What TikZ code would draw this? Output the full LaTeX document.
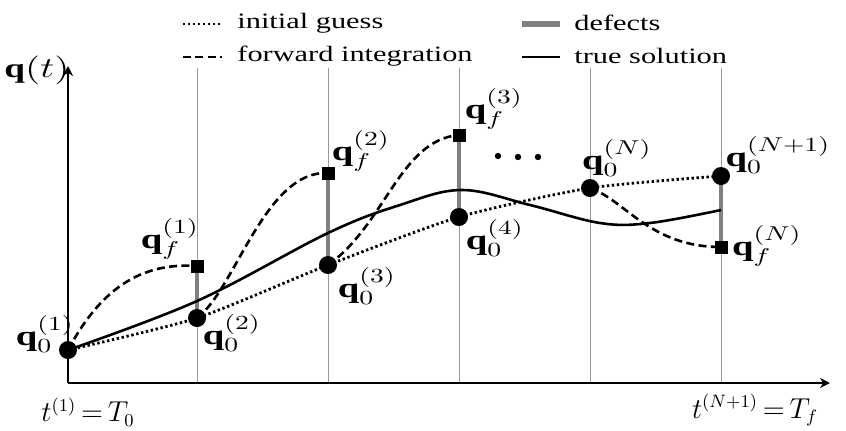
\documentclass[tikz,border=0pt]{standalone}
\usepackage{fontspec}
\usepackage{graphicx}
\setmainfont{Liberation Serif}
\usetikzlibrary{arrows.meta,positioning}
\newcommand{\hs}[1]{\scalebox{1.38}[1]{#1}}

\begin{document}
\begin{tikzpicture}[x=.5pt,y=-.5pt,
 mk/.style={circle,fill=black,inner sep=0pt,minimum size=9pt},
 sq/.style={rectangle,fill=black,inner sep=0pt,minimum size=6.5pt},
 lab/.style={inner sep=0pt,font=\fontsize{14}{16}\selectfont},
 axl/.style={inner sep=0pt,font=\fontsize{13.5}{16}\selectfont},
 leg/.style={inner sep=0pt,anchor=west,font=\fontsize{11}{13}\selectfont},
 ax/.style={line width=1.2pt,-{Stealth[length=5pt,width=5pt]}},
 gl/.style={line width=.5pt,black!40},
 df/.style={line width=2.2pt,black!50},
 fw/.style={line width=1.3pt,dash pattern=on 4pt off 2.2pt},
 ig/.style={line width=1.4pt,dash pattern=on 1.2pt off 1.3pt},
 ts/.style={line width=1.3pt}]
\useasboundingbox (0,0) rectangle (846,430);
% points of the shooting grid
\coordinate (o) at (68,383);
\coordinate (tx) at (830,383);
\coordinate (ty) at (68,66);
\coordinate (q01) at (68,350);
\coordinate (q02) at (197,318);
\coordinate (q03) at (328,265);
\coordinate (q04) at (459,217);
\coordinate (q0N) at (590,188);
\coordinate (q0M) at (721,176);
\coordinate (qf1) at (197,266);
\coordinate (qf2) at (328,173);
\coordinate (qf3) at (459,135);
\coordinate (qfN) at (721,247);
% legend
\draw[ig] (183,24) -- (222,24);
\node[leg] (lig) at (237,23) {\hs{initial guess}};
\draw[fw] (183,57) -- (222,57);
\node[leg] (lfw) at (237,56) {\hs{forward integration}};
\draw[df,line width=2.6pt] (522,24) -- (560,24);
\node[leg] (ldf) at (574,23) {\hs{defects}};
\draw[ts] (522,57) -- (560,57);
\node[leg] (lts) at (574,56) {\hs{true solution}};
% grid and axes
\foreach \x in {197,328,459,590,721}
  \draw[gl] (\x,68) -- (\x,383);
\draw[ax] (o) -- (tx);
\draw[ax] (o) -- (ty);
% defects
\draw[df] (qf1) -- (q02);
\draw[df] (qf2) -- (q03);
\draw[df] (qf3) -- (q04);
\draw[df] (q0M) -- (qfN);
% true solution
\draw[ts] plot[smooth,tension=.6] coordinates {(q01) (197,301) (328,233) (400,205) (462,190) (530,205) (600,223) (650,223) (721,210)};
% initial guess
\draw[ig] plot[smooth,tension=.4] coordinates {(q01) (q02) (q03) (q04) (q0N) (q0M)};
% forward integration
\draw[fw] (q01) .. controls (100,290) and (140,262) .. (qf1);
\draw[fw] (q02) .. controls (235,290) and (265,170) .. (qf2);
\draw[fw] (q03) .. controls (385,225) and (400,140) .. (qf3);
\draw[fw] (q0N) .. controls (625,200) and (650,247) .. (qfN);
% markers
\node[mk] (m01) at (q01) {};
\node[mk] (m02) at (q02) {};
\node[mk] (m03) at (q03) {};
\node[mk] (m04) at (q04) {};
\node[mk] (m0N) at (q0N) {};
\node[mk] (m0M) at (q0M) {};
\node[sq] (mf1) at (qf1) {};
\node[sq] (mf2) at (qf2) {};
\node[sq] (mf3) at (qf3) {};
\node[sq] (mfN) at (qfN) {};
\foreach \x/\y in {498/156,518/157,538/157}
  \fill (\x,\y) circle (1.6pt);
% labels
\node[lab] (l01) at (45,334) {\hs{$\mathbf{q}_0^{(1)}$}};
\node[lab] (l02) at (232,333) {\hs{$\mathbf{q}_0^{(2)}$}};
\node[lab] (l03) at (367,286) {\hs{$\mathbf{q}_0^{(3)}$}};
\node[lab] (l04) at (495,238) {\hs{$\mathbf{q}_0^{(4)}$}};
\node[lab] (l0N) at (617,158) {\hs{$\mathbf{q}_0^{(N)}$}};
\node[lab] (l0M) at (778,155) {\hs{$\mathbf{q}_0^{(N+1)}$}};
\node[lab] (lf1) at (170,239) {\hs{$\mathbf{q}_f^{(1)}$}};
\node[lab] (lf2) at (361,151) {\hs{$\mathbf{q}_f^{(2)}$}};
\node[lab] (lf3) at (494,109) {\hs{$\mathbf{q}_f^{(3)}$}};
\node[lab] (lfN) at (767,246) {\hs{$\mathbf{q}_f^{(N)}$}};
\node[axl] (lq) at (37,70) {\hs{$\mathbf{q}(t)$}};
\node[axl] (lt0) at (88,412) {$t^{(1)}\,{=}\,T_0$};
\node[axl] (ltf) at (755,410) {$t^{(N+1)}\,{=}\,T_f$};
\node[axl] (lt) at (852,390) {$t$};
\end{tikzpicture}
\end{document}
